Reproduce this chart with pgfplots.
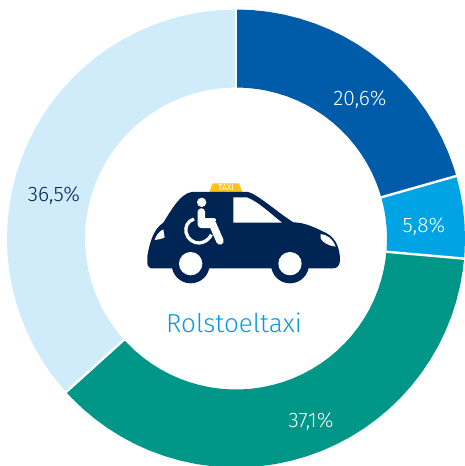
\documentclass[border=0pt]{standalone}
\usepackage{pgfplots}
\pgfplotsset{compat=1.18}
\usepackage{fontspec}
\setmainfont{Fira Sans Light}[BoldFont={Fira Sans}]
\definecolor{cA}{HTML}{005CA9}
\definecolor{cB}{HTML}{00A3E4}
\definecolor{cC}{HTML}{009688}
\definecolor{cD}{HTML}{D0ECFA}
\definecolor{navy}{HTML}{002454}
\definecolor{lab}{HTML}{0A9BDC}
\definecolor{yel}{HTML}{FFC20E}
\begin{document}
\begin{tikzpicture}
\path[use as bounding box] (0,0) rectangle (465pt,466pt);
\begin{axis}[hide axis,scale only axis,width=465pt,height=466pt,
  xmin=-236,xmax=229,ymin=-227.5,ymax=238.5,clip=true]
\addplot[fill=cA,draw=none,data cs=polar] coordinates {
(90,229)(86,229)(82,229)(78,229)(74,229)(70,229)(66,229)(62,229)(58,229)(54,229)(50,229)(46,229)(42,229)(38,229)(34,229)(30,229)(26,229)(22,229)(18,229)(15.84,229)
(15.84,151)(18,151)(22,151)(26,151)(30,151)(34,151)(38,151)(42,151)(46,151)(50,151)(54,151)(58,151)(62,151)(66,151)(70,151)(74,151)(78,151)(82,151)(86,151)(90,151)};
\addplot[fill=cB,draw=none,data cs=polar] coordinates {
(15.84,229)(12,229)(8,229)(4,229)(0,229)(-4,229)(-5.04,229)
(-5.04,151)(-4,151)(0,151)(4,151)(8,151)(12,151)(15.84,151)};
\addplot[fill=cC,draw=none,data cs=polar] coordinates {
(-5.04,229)(-8,229)(-12,229)(-16,229)(-20,229)(-24,229)(-28,229)(-32,229)(-36,229)(-40,229)(-44,229)(-48,229)(-52,229)(-56,229)(-60,229)(-64,229)(-68,229)(-72,229)(-76,229)(-80,229)(-84,229)(-88,229)(-92,229)(-96,229)(-100,229)(-104,229)(-108,229)(-112,229)(-116,229)(-120,229)(-124,229)(-128,229)(-132,229)(-136,229)(-137.9,229)
(-137.9,151)(-136,151)(-132,151)(-128,151)(-124,151)(-120,151)(-116,151)(-112,151)(-108,151)(-104,151)(-100,151)(-96,151)(-92,151)(-88,151)(-84,151)(-80,151)(-76,151)(-72,151)(-68,151)(-64,151)(-60,151)(-56,151)(-52,151)(-48,151)(-44,151)(-40,151)(-36,151)(-32,151)(-28,151)(-24,151)(-20,151)(-16,151)(-12,151)(-8,151)(-5.04,151)};
\addplot[fill=cD,draw=none,data cs=polar] coordinates {
(-137.9,229)(-140,229)(-144,229)(-148,229)(-152,229)(-156,229)(-160,229)(-164,229)(-168,229)(-172,229)(-176,229)(-180,229)(-184,229)(-188,229)(-192,229)(-196,229)(-200,229)(-204,229)(-208,229)(-212,229)(-216,229)(-220,229)(-224,229)(-228,229)(-232,229)(-236,229)(-240,229)(-244,229)(-248,229)(-252,229)(-256,229)(-260,229)(-264,229)(-268,229)(-270,229)
(-270,151)(-268,151)(-264,151)(-260,151)(-256,151)(-252,151)(-248,151)(-244,151)(-240,151)(-236,151)(-232,151)(-228,151)(-224,151)(-220,151)(-216,151)(-212,151)(-208,151)(-204,151)(-200,151)(-196,151)(-192,151)(-188,151)(-184,151)(-180,151)(-176,151)(-172,151)(-168,151)(-164,151)(-160,151)(-156,151)(-152,151)(-148,151)(-144,151)(-140,151)(-137.9,151)};
\addplot[white,line width=2.4pt,data cs=polar] coordinates {(90,149)(90,231)};
\addplot[white,line width=2.4pt,data cs=polar] coordinates {(15.84,149)(15.84,231)};
\addplot[white,line width=2.4pt,data cs=polar] coordinates {(-5.04,149)(-5.04,231)};
\addplot[white,line width=2.4pt,data cs=polar] coordinates {(-137.9,149)(-137.9,231)};
\end{axis}
% labels and icon, in image pixels
\begin{scope}[x=1pt,y=-1pt,yshift=466pt]
\node[white,font=\fontsize{21}{23}\selectfont] at (360,99.5) {20,6\%};
\node[white,font=\fontsize{21}{23}\selectfont] at (424,227) {5,8\%};
\node[white,font=\fontsize{21}{23}\selectfont] at (311,421.5) {37,1\%};
\node[navy,font=\fontsize{21}{23}\selectfont] at (54,195.5) {36,5\%};
\node[lab,font=\fontsize{26}{28}\selectfont] at (234,323) {Rolstoeltaxi};
\end{scope}
\begin{scope}[x=0.33333pt,y=-0.33333pt,shift={(130pt,296pt)}]
\fill[yel] (238,66)--(248,40)--(327,40)--(337,66)--cycle;
\node[white,font=\bfseries\fontsize{8.5}{9}\selectfont] at (288,54) {TAXI};
\fill[navy] (62,295) .. controls (54,293) and (52,285) .. (52,275) -- (52,258)
  .. controls (58,225) and (68,178) .. (100,158)
  .. controls (118,130) and (150,70) .. (185,66) -- (355,66)
  .. controls (385,75) and (440,125) .. (490,157)
  .. controls (525,157) and (560,175) .. (590,190)
  .. controls (620,205) and (630,240) .. (630,270)
  .. controls (630,285) and (622,295) .. (610,295) -- cycle;
\fill[navy] (182,283) circle[radius=57];
\fill[navy] (480,283) circle[radius=57];
\fill[white] (182,281) circle[radius=35];
\fill[white] (480,281) circle[radius=35];
\fill[white] (310,82) -- (350,82) .. controls (385,95) and (420,130) .. (456,158) -- (310,158) -- cycle;
\fill[white] (100,178) .. controls (85,185) and (78,198) .. (74,210) .. controls (88,208) and (98,206) .. (104,202) -- cycle;
\fill[white] (572,192) .. controls (590,194) and (608,205) .. (617,230) .. controls (595,228) and (575,215) .. (572,205) -- cycle;
\fill[white] (215,97) circle[radius=14];
\draw[white,line width=7.5pt,line cap=round,line join=round] (214,126) -- (214,163) -- (248,163) -- (270,213);
\draw[white,line width=4pt,line cap=round] (225,151) -- (252,151);
\draw[white,line width=3.3pt] (192,147) .. controls (172,153) and (165,172) .. (168,187) .. controls (172,208) and (192,220) .. (208,219) .. controls (225,218) and (240,205) .. (244,194);
\end{scope}
\end{tikzpicture}
\end{document}
